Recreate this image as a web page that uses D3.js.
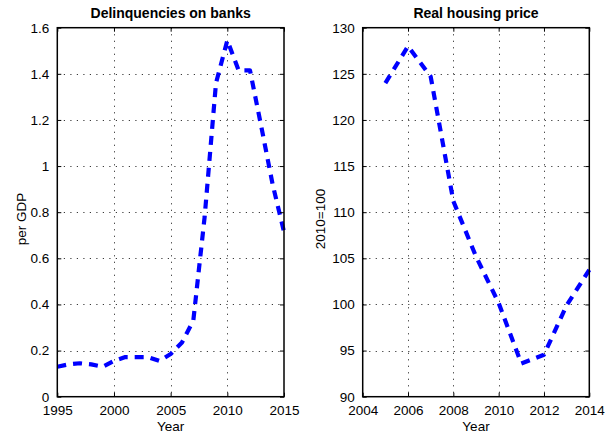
<!DOCTYPE html>
<html>
<head>
<meta charset="utf-8">
<script src="https://cdn.jsdelivr.net/npm/d3@7"></script>
<style>
  html, body { margin: 0; padding: 0; background: #fff; }
  svg { display: block; }
  text { font-family: "Liberation Sans", Arial, Helvetica, sans-serif; fill: #000; }
</style>
</head>
<body>
<svg id="fig" width="605" height="436"></svg>
<script>
// Bank delinquencies relative to GDP, yearly
const delinqYears = [1995, 1996, 1997, 1998, 1999, 2000, 2001, 2002, 2003, 2004, 2005,
                     2006, 2007, 2008, 2009, 2010, 2011, 2012, 2013, 2014, 2015];
const delinqValues = [0.13, 0.14, 0.145, 0.14, 0.13, 0.155, 0.172, 0.172, 0.172, 0.155, 0.185,
                      0.235, 0.33, 0.78, 1.36, 1.545, 1.415, 1.415, 1.17, 0.92, 0.715];

// Real housing price index, 2010 = 100
const housingYears = [2005, 2006, 2007, 2008, 2009, 2010, 2011, 2012, 2013, 2014];
const housingValues = [124.0, 128.0, 124.7, 111.2, 105.2, 100.15, 93.6, 94.55, 99.9, 103.75];

// Axis ticks
const delinqXTicks = [1995, 2000, 2005, 2010, 2015];
const delinqYTicks = [0, 0.2, 0.4, 0.6, 0.8, 1, 1.2, 1.4, 1.6];
const housingXTicks = [2004, 2006, 2008, 2010, 2012, 2014];
const housingYTicks = [90, 95, 100, 105, 110, 115, 120, 125, 130];

const svg = d3.select("#fig");
const plotTop = 27.7, plotBottom = 396.7;

function panel(opts) {
  const { left, right, xDomain, yDomain, xTicks, yTicks, years, values,
          title, yLabel, yLabelOffset, yFormat } = opts;
  const x = d3.scaleLinear().domain(xDomain).range([left, right]);
  const y = d3.scaleLinear().domain(yDomain).range([plotBottom, plotTop]);
  const g = svg.append("g");

  // dotted grid
  const grid = g.append("g")
    .attr("stroke", "#3a3a3a").attr("stroke-width", 1)
    .attr("stroke-dasharray", "1.2,5.3");
  grid.selectAll("line.v").data(xTicks.slice(1, -1)).join("line")
    .attr("x1", d => Math.round(x(d)) + 0.5).attr("x2", d => Math.round(x(d)) + 0.5)
    .attr("y1", plotTop).attr("y2", plotBottom);
  grid.selectAll("line.h").data(yTicks.slice(1, -1)).join("line")
    .attr("y1", d => Math.round(y(d)) + 0.5).attr("y2", d => Math.round(y(d)) + 0.5)
    .attr("x1", left).attr("x2", right);

  // series
  const line = d3.line().x((d, i) => x(years[i])).y(d => y(d));
  g.append("path").datum(values)
    .attr("d", line)
    .attr("fill", "none")
    .attr("stroke", "#0000ff")
    .attr("stroke-width", 4.2)
    .attr("stroke-dasharray", "9,7")
    .attr("stroke-linejoin", "round");

  // bottom and left axes (ticks inward), plus mirrored ticks on top and right
  const tk = 4;
  const xAxis = d3.axisBottom(x).tickValues(xTicks).tickSizeInner(-tk).tickSizeOuter(0)
    .tickPadding(8).tickFormat(d3.format("d"));
  const gx = g.append("g").attr("transform", `translate(0,${plotBottom})`).call(xAxis);
  gx.select(".domain").remove();
  gx.selectAll("text").attr("font-size", "13.5px").attr("dy", "0.75em")
    .attr("font-family", "Liberation Sans, Arial, sans-serif");
  gx.selectAll("line").attr("stroke", "#000");

  const yAxis = d3.axisLeft(y).tickValues(yTicks).tickSizeInner(-tk).tickSizeOuter(0)
    .tickPadding(8).tickFormat(yFormat);
  const gy = g.append("g").attr("transform", `translate(${left},0)`).call(yAxis);
  gy.select(".domain").remove();
  gy.selectAll("text").attr("font-size", "13.5px")
    .attr("font-family", "Liberation Sans, Arial, sans-serif");
  gy.selectAll("line").attr("stroke", "#000");

  const gt = g.append("g").attr("transform", `translate(0,${plotTop})`)
    .call(d3.axisTop(x).tickValues(xTicks).tickSizeInner(-tk).tickSizeOuter(0).tickFormat(""));
  gt.select(".domain").remove();
  gt.selectAll("line").attr("stroke", "#000");
  const gr = g.append("g").attr("transform", `translate(${right},0)`)
    .call(d3.axisRight(y).tickValues(yTicks).tickSizeInner(-tk).tickSizeOuter(0).tickFormat(""));
  gr.select(".domain").remove();
  gr.selectAll("line").attr("stroke", "#000");

  // box
  g.append("rect")
    .attr("x", left).attr("y", plotTop)
    .attr("width", right - left).attr("height", plotBottom - plotTop)
    .attr("fill", "none").attr("stroke", "#000").attr("stroke-width", 1.5);

  // title and labels
  g.append("text").attr("x", (left + right) / 2).attr("y", 17.5)
    .attr("text-anchor", "middle").attr("font-weight", "bold").attr("font-size", "14px")
    .text(title);
  g.append("text").attr("x", (left + right) / 2).attr("y", 430.7)
    .attr("text-anchor", "middle").attr("font-size", "13.5px").text("Year");
  g.append("text")
    .attr("transform", `translate(${left - yLabelOffset},219) rotate(-90)`)
    .attr("text-anchor", "middle").attr("font-size", "13.5px").text(yLabel);
}

panel({
  left: 57.3, right: 284, xDomain: [1995, 2015], yDomain: [0, 1.6],
  xTicks: delinqXTicks, yTicks: delinqYTicks,
  years: delinqYears, values: delinqValues,
  title: "Delinquencies on banks", yLabel: "per GDP", yLabelOffset: 31.3,
  yFormat: d => d3.format("")(+d.toFixed(1))
});

panel({
  left: 362.7, right: 589.3, xDomain: [2004, 2014], yDomain: [90, 130],
  xTicks: housingXTicks, yTicks: housingYTicks,
  years: housingYears, values: housingValues,
  title: "Real housing price", yLabel: "2010=100", yLabelOffset: 37.7,
  yFormat: d3.format("d")
});
</script>
</body>
</html>
